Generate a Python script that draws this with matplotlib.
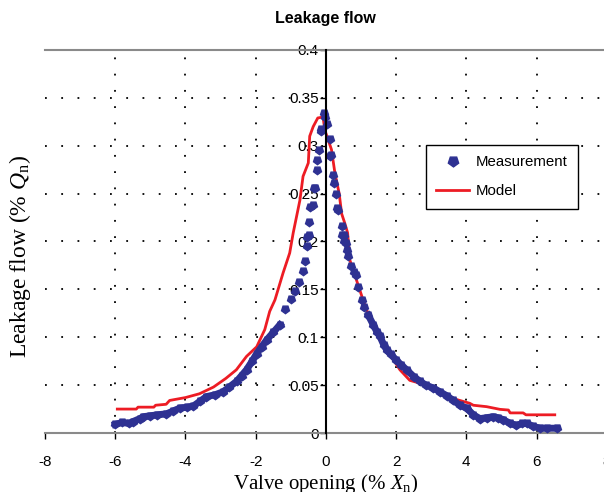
import numpy as np
import matplotlib
matplotlib.use('Agg')
import matplotlib.pyplot as plt

plt.rcParams['font.family'] = ['Liberation Sans', 'DejaVu Sans']
plt.rcParams['mathtext.fontset'] = 'custom'
plt.rcParams['mathtext.rm'] = 'Liberation Serif'
plt.rcParams['mathtext.it'] = 'Liberation Serif:italic'

# measured leakage flow (% Qn) vs valve opening (% Xn)
meas_x = [-6.0, -5.8, -5.6, -5.49, -5.3, -5.2, -5.0, -4.8, -4.54, -4.35, -4.16, -3.95,
          -3.78, -3.59, -3.4, -3.15, -2.93, -2.75, -2.54, -2.4, -2.26, -2.1, -1.97, -1.83,
          -1.69, -1.5, -1.31, -1.15, -1.0, -0.88, -0.77, -0.66, -0.6, -0.55, -0.53, -0.49,
          -0.47, -0.44, -0.36, -0.34, -0.31, -0.25, -0.25, -0.2, -0.15, -0.15, -0.06, -0.03,
          0.04, 0.11, 0.13, 0.16, 0.21, 0.23, 0.3, 0.33, 0.35, 0.45, 0.47, 0.52, 0.53, 0.56,
          0.59, 0.62, 0.73, 0.79, 0.85, 0.92, 1.02, 1.1, 1.21, 1.35, 1.45, 1.54, 1.65, 1.73,
          1.85, 2.01, 2.15, 2.3, 2.5, 2.68, 2.85, 3.06, 3.25, 3.44, 3.63, 3.82, 4.01, 4.2,
          4.39, 4.58, 4.77, 4.9, 5.05, 5.25, 5.43, 5.6, 5.72, 5.9, 6.1, 6.3, 6.57]
meas_y = [0.009, 0.011, 0.010, 0.012, 0.015, 0.017, 0.018, 0.019, 0.020, 0.023, 0.026, 0.027,
          0.028, 0.033, 0.038, 0.040, 0.043, 0.048, 0.054, 0.060, 0.066, 0.075, 0.083, 0.090,
          0.097, 0.105, 0.113, 0.130, 0.140, 0.148, 0.158, 0.169, 0.180, 0.195, 0.205, 0.207,
          0.220, 0.236, 0.238, 0.256, 0.256, 0.275, 0.285, 0.296, 0.315, 0.317, 0.334, 0.330,
          0.323, 0.307, 0.289, 0.290, 0.269, 0.261, 0.250, 0.235, 0.233, 0.216, 0.207, 0.207,
          0.200, 0.198, 0.191, 0.185, 0.174, 0.168, 0.165, 0.153, 0.139, 0.132, 0.123, 0.113,
          0.106, 0.101, 0.092, 0.087, 0.082, 0.076, 0.071, 0.066, 0.059, 0.054, 0.050, 0.047,
          0.043, 0.039, 0.034, 0.029, 0.026, 0.019, 0.015, 0.016, 0.017, 0.016, 0.014, 0.010,
          0.008, 0.010, 0.010, 0.007, 0.005, 0.005, 0.005]

# model curve
model_x = [-5.94, -5.4, -5.35, -4.9, -4.85, -4.55, -4.45, -4.0, -3.6, -3.2, -2.85, -2.55,
           -2.26, -1.97, -1.74, -1.6, -1.45, -1.22, -1.03, -0.93, -0.74, -0.65, -0.5, -0.46,
           -0.36, -0.23, -0.08, -0.03, 0.16, 0.26, 0.38, 0.45, 0.54, 0.62, 0.68, 0.87, 1.06,
           1.3, 1.5, 1.75, 1.95, 2.11, 2.39, 2.68, 3.0, 3.3, 3.6, 3.72, 4.1, 4.2, 4.58, 4.96,
           5.2, 5.25, 5.62, 5.7, 6.52]
model_y = [0.025, 0.025, 0.027, 0.027, 0.029, 0.030, 0.034, 0.037, 0.041, 0.048, 0.057, 0.066,
           0.080, 0.090, 0.108, 0.127, 0.139, 0.167, 0.188, 0.209, 0.243, 0.268, 0.282, 0.310,
           0.320, 0.329, 0.330, 0.3165, 0.296, 0.271, 0.250, 0.229, 0.219, 0.209, 0.181, 0.160,
           0.139, 0.115, 0.100, 0.085, 0.075, 0.066, 0.055, 0.052, 0.047, 0.043, 0.037, 0.035,
           0.031, 0.029, 0.0275, 0.0247, 0.024, 0.021, 0.021, 0.019, 0.019]

xticks = [-8, -6, -4, -2, 0, 2, 4, 6, 8]
yticks = [0, 0.05, 0.1, 0.15, 0.2, 0.25, 0.3, 0.35, 0.4]
ytick_labels = ['0', '0.05', '0.1', '0.15', '0.2', '0.25', '0.3', '0.35', '0.4']

blue = '#2e3192'
red = '#ed1c24'

fig = plt.figure(figsize=(6.04, 4.92), dpi=100)
ax = fig.add_axes([0.0745, 0.1199, 0.930, 0.7785])

ax.set_xlim(-8, 8)
ax.set_ylim(0, 0.4)

# dotted grid
grid_style = dict(color='black', lw=1.3, ls=(0, (1, 8)), zorder=1)
for gx in xticks:
    if gx not in (-8, 0, 8):
        ax.axvline(gx, **grid_style)
for gy in yticks[1:]:
    ax.axhline(gy, **grid_style)

mx = np.array(meas_x)
my = np.array(meas_y)
left = mx < -1.2
right = mx > 1.2
ax.plot(mx[left], my[left], color=blue, lw=5, zorder=3)
ax.plot(mx[right], my[right], color=blue, lw=5, zorder=3)
ax.plot(mx, my, ls='none', marker=(5, 0, 180), ms=6, color=blue, zorder=3,
        label='Measurement')
ax.plot(model_x, model_y, color=red, lw=2, zorder=2, label='Model')

for s in ['top', 'bottom', 'right']:
    ax.spines[s].set_color('#8a8a8a')
    ax.spines[s].set_linewidth(1.5)
ax.spines['left'].set_position(('data', 0))
ax.spines['left'].set_color('black')
ax.spines['left'].set_linewidth(1.5)
ax.spines['left'].set_zorder(4)

ax.set_xticks(xticks)
ax.set_xticklabels([str(t) for t in xticks])
ax.set_yticks(yticks)
ax.set_yticklabels(ytick_labels)
ax.tick_params(axis='x', direction='out', length=4, width=1, pad=12, labelsize=11)
ax.tick_params(axis='y', direction='out', length=4, width=1, pad=1, labelsize=11)

ax.set_xlabel('Valve opening (% $X_\\mathrm{n}$)', family='Liberation Serif', fontsize=15,
              labelpad=2)
fig.text(0.033, 0.48, 'Leakage flow (% $Q_\\mathrm{n}$)', family='Liberation Serif',
         fontsize=17, rotation=90, ha='center', va='center')
fig.text(0.538, 0.963, 'Leakage flow', fontsize=11.5, fontweight='bold',
         ha='center', va='center')

leg = ax.legend(loc='upper left', bbox_to_anchor=(0.678, 0.752), borderaxespad=0,
                fancybox=False, edgecolor='black', framealpha=1, fontsize=10.8,
                handlelength=2.2, borderpad=0.7, labelspacing=1.0, handletextpad=0.4,
                markerscale=1.3)
leg.get_frame().set_linewidth(1.0)

fig.savefig('out.png', dpi=100)
